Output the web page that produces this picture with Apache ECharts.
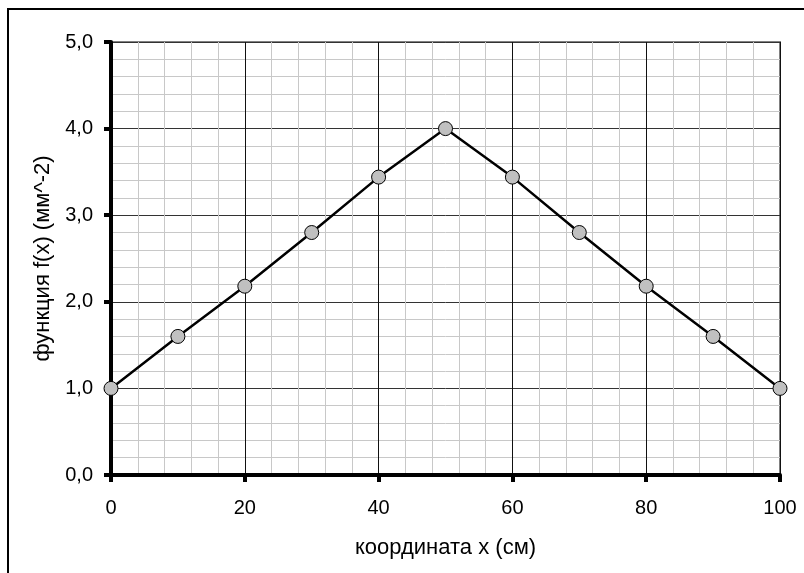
<!DOCTYPE html>
<html>
<head>
<meta charset="utf-8">
<script src="https://cdn.jsdelivr.net/npm/echarts@6/dist/echarts.min.js"></script>
<style>
html,body{margin:0;padding:0;background:#fff;}
#chart{width:804px;height:573px;}
</style>
</head>
<body>
<div id="chart"></div>
<script>
const xValues = [0, 10, 20, 30, 40, 50, 60, 70, 80, 90, 100];
const fValues = [1.0, 1.6, 2.18, 2.8, 3.44, 4.0, 3.44, 2.8, 2.18, 1.6, 1.0];
const xAxisTitle = 'координата x (см)';
const yAxisTitle = 'функция f(x) (мм^-2)';

const chart = echarts.init(document.getElementById('chart'), null, {renderer: 'canvas'});
const font = 'Liberation Sans, Arial, sans-serif';
const option = {
  animation: false,
  backgroundColor: '#fff',
  graphic: [{
    type: 'polyline',
    shape: {points: [[8, 573], [8, 9], [804, 9]]},
    style: {stroke: '#000', lineWidth: 2, fill: null},
    silent: true
  }],
  grid: {left: 111, right: 24, top: 42, bottom: 98, show: true, borderColor: '#808080', borderWidth: 2, backgroundColor: '#fff'},
  xAxis: {
    type: 'value', min: 0, max: 100, interval: 20,
    name: xAxisTitle, nameLocation: 'middle', nameGap: 62,
    nameTextStyle: {fontFamily: font, fontSize: 22, color: '#000'},
    axisLine: {show: true, onZero: false, lineStyle: {color: '#000', width: 4}},
    axisTick: {show: true, inside: false, length: 7, lineStyle: {color: '#000', width: 4}},
    minorTick: {show: false, splitNumber: 5},
    axisLabel: {margin: 23, fontFamily: font, fontSize: 20, color: '#000'},
    splitLine: {show: true, lineStyle: {color: '#111', width: 1}},
    minorSplitLine: {show: true, lineStyle: {color: '#c8c8c8', width: 1}}
  },
  yAxis: {
    type: 'value', min: 0, max: 5, interval: 1,
    name: yAxisTitle, nameLocation: 'middle', nameGap: 56, nameRotate: 90,
    nameTextStyle: {fontFamily: font, fontSize: 22, color: '#000'},
    axisLine: {show: true, onZero: false, lineStyle: {color: '#000', width: 4}},
    axisTick: {show: true, inside: false, length: 7, lineStyle: {color: '#000', width: 4}},
    minorTick: {show: false, splitNumber: 5},
    axisLabel: {margin: 18, fontFamily: font, fontSize: 20, color: '#000',
      formatter: v => v.toFixed(1).replace('.', ',')},
    splitLine: {show: true, lineStyle: {color: '#333', width: 1}},
    minorSplitLine: {show: true, lineStyle: {color: '#c8c8c8', width: 1}}
  },
  series: [{
    type: 'line',
    data: xValues.map((x, i) => [x, fValues[i]]),
    symbol: 'circle', symbolSize: 14,
    lineStyle: {color: '#000', width: 2.5},
    itemStyle: {color: '#c0c0c0', borderColor: '#000', borderWidth: 1},
    z: 5
  }]
};
chart.setOption(option);
</script>
</body>
</html>
